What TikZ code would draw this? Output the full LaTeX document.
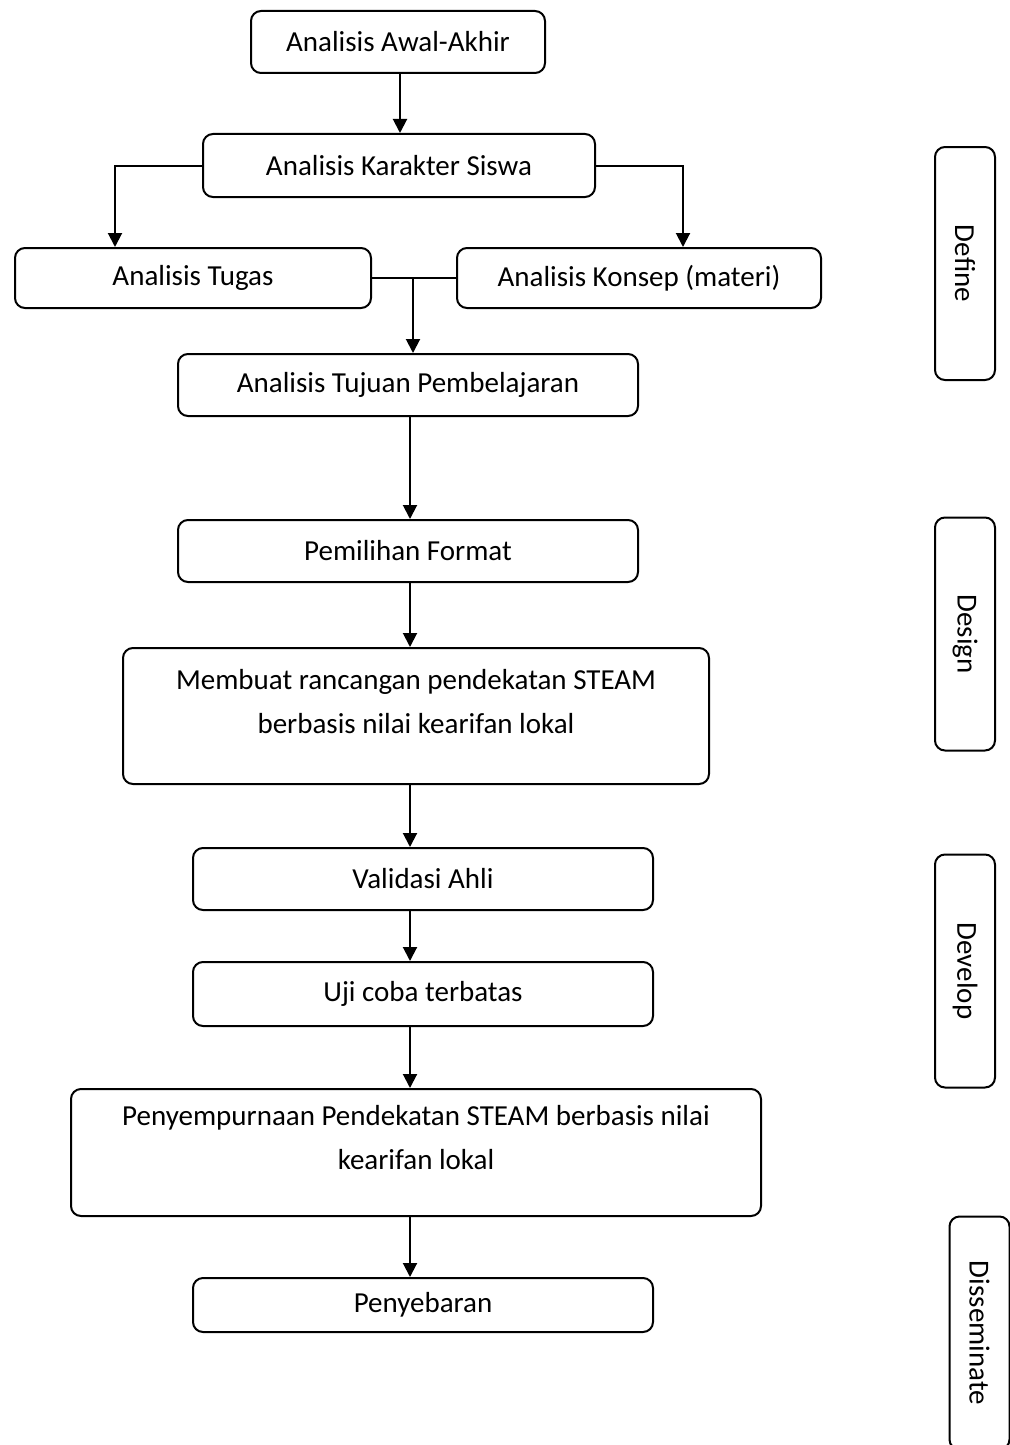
\documentclass[tikz,border=0pt]{standalone}
\usepackage{fontspec}
\setmainfont{Carlito}
\usetikzlibrary{arrows.meta}
\begin{document}
\begin{tikzpicture}[x=0.5pt,y=-0.5pt,
  box/.style={draw, line width=1pt, rounded corners=5pt, align=center, inner sep=0pt, font=\fontsize{14.5}{22}\selectfont},
  bigbox/.style={box, text height=32pt, text depth=15pt},
  side/.style={box, rotate=-90, minimum width=116.5pt, minimum height=30pt},
  arr/.style={line width=1pt, -{Triangle[length=7pt,width=7pt]}}]
\useasboundingbox (0,0) rectangle (1010,1445);
\node[box, minimum width=147pt, minimum height=31pt] (aa) at (398,42) {Analisis Awal-Akhir};
\node[box, minimum width=196pt, minimum height=31.5pt] (aks) at (399,165.5) {Analisis Karakter Siswa};
\node[box, minimum width=178pt, minimum height=30pt] (at) at (193,278) {Analisis Tugas};
\node[box, minimum width=182pt, minimum height=30pt] (ak) at (639,278) {Analisis Konsep (materi)};
\node[box, minimum width=230pt, minimum height=31pt] (atp) at (408,385) {Analisis Tujuan Pembelajaran};
\node[box, minimum width=230pt, minimum height=31pt] (pf) at (408,551) {Pemilihan Format};
\node[bigbox, minimum width=293pt, minimum height=68pt] (mr) at (416,716) {Membuat rancangan pendekatan STEAM\\berbasis nilai kearifan lokal};
\node[box, minimum width=230pt, minimum height=31pt] (va) at (423,879) {Validasi Ahli};
\node[box, minimum width=230pt, minimum height=32pt] (uc) at (423,994) {Uji coba terbatas};
\node[bigbox, minimum width=345pt, minimum height=63.5pt] (pp) at (416,1152.5) {Penyempurnaan Pendekatan STEAM berbasis nilai\\kearifan lokal};
\node[box, minimum width=230pt, minimum height=27pt] (py) at (423,1305) {Penyebaran};
\node[side] (define) at (965,263.5) {Define};
\node[side] (design) at (965,634) {Design};
\node[side] (develop) at (965,971) {Develop};
\node[side] (disseminate) at (979.5,1333) {Disseminate};
\coordinate (spine) at (410,0);
\coordinate (join) at (413,278);
\draw[arr] (aa.south -| 400,0) -- (aks.north -| 400,0);
\draw[arr] (aks.west) -| ([xshift=-39pt]at.north);
\draw[arr] (aks.east) -| ([xshift=22pt]ak.north);
\draw[line width=1pt] (at) -- (ak);
\draw[arr] (join) -- (join |- atp.north);
\draw[arr] (atp.south -| spine) -- (pf.north -| spine);
\draw[arr] (pf.south -| spine) -- (mr.north -| spine);
\draw[arr] (mr.south -| spine) -- (va.north -| spine);
\draw[arr] (va.south -| spine) -- (uc.north -| spine);
\draw[arr] (uc.south -| spine) -- (pp.north -| spine);
\draw[arr] (pp.south -| spine) -- (py.north -| spine);
\end{tikzpicture}
\end{document}
